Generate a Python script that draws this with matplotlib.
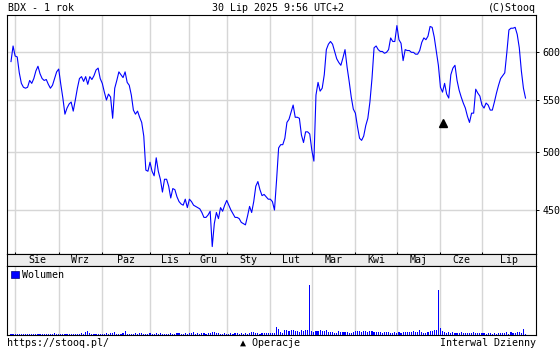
import matplotlib
matplotlib.use("Agg")
import matplotlib.pyplot as plt
from matplotlib.ticker import NullLocator, NullFormatter
import numpy as np
import pandas as pd

plt.rcParams['font.family'] = ['DejaVu Sans Mono', 'DejaVu Sans']

# ---------------- data ----------------
title_left = "BDX - 1 rok"
title_mid = "30 Lip 2025 9:56 UTC+2"
title_right = "(C)Stooq"
footer_left = "https://stooq.pl/"
footer_mid = "\u25B2 Operacje"
footer_right = "Interwal Dzienny"
legend_label = "Wolumen"

month_labels = ["Sie", "Wrz", "Paz", "Lis", "Gru", "Sty", "Lut", "Mar", "Kwi", "Maj", "Cze", "Lip"]
price_ticks = [450, 500, 550, 600]

start_date = "2024-07-30"
end_date = "2025-07-30"
holidays = ["2024-08-15", "2024-11-01", "2024-11-11", "2024-12-24", "2024-12-25",
            "2024-12-26", "2024-12-31", "2025-01-01", "2025-01-06", "2025-04-18",
            "2025-04-21", "2025-05-01", "2025-06-19"]

close = [
    590, 607, 596, 595, 578, 567, 563, 562, 563, 570, 567, 572, 580, 585, 577, 572,
    570, 571, 566, 562, 565, 572, 579, 582, 566, 552, 536, 542, 546, 548, 539, 550,
    562, 572, 574, 569, 574, 566, 574, 571, 575, 581, 583, 572, 567, 558, 550, 556,
    553, 532, 562, 570, 579, 576, 573, 579, 568, 565, 555, 540, 536, 539, 533,
    528, 515, 484, 483, 491, 483, 479, 495, 483, 476, 465, 476, 476, 470, 460, 468,
    467, 461, 457, 455, 454, 459, 452, 459, 457, 454, 453, 452, 451, 448, 444, 444,
    446, 449, 421, 439, 448, 443, 452, 449, 454, 458, 454, 450, 447, 444, 444, 443,
    440, 439, 438, 445, 453, 448, 457, 470, 474, 467, 462, 463, 461, 459, 459, 457,
    450,
    475, 504, 507, 507, 513, 528, 531, 538, 545, 533, 533, 532, 516, 509, 519, 519,
    517, 502, 492, 555, 568, 559, 562, 576, 603, 609, 612, 609, 601, 593, 589, 586,
    594, 603, 584, 569, 553, 541, 537, 524, 513, 511, 515, 525, 532, 548, 572, 605,
    607, 603, 601, 601, 599, 600, 603, 616, 612, 612, 630,
    614, 610, 591, 603, 602, 602, 600, 600, 598, 598, 602, 611, 616, 614, 618, 629,
    628, 617, 601, 586, 563, 558, 567, 556, 552, 576, 583, 586, 570, 560, 553, 547,
    542, 534, 528, 537, 537, 561, 557, 554, 545, 542, 547, 545, 540, 540, 548, 557,
    565, 572, 575, 578, 600, 625, 627, 627, 628, 620, 605, 580, 562, 552,
]

# volume in thousands of shares, per trading day
vol_jul_aug = [4, 4, 4, 4, 4, 4, 4, 4, 4, 4, 4, 4, 4, 4, 4, 4, 4, 4, 4, 4, 4, 8, 4]
vol_sep = [4, 4, 4, 4, 4, 4, 4, 4, 4, 4, 4, 8, 4, 12, 16, 8, 4, 4, 4, 4, 4]
vol_oct = [4, 4, 8, 4, 8, 8, 12, 4, 4, 4, 8, 16, 4, 4, 4, 4, 8, 4, 8, 8, 4, 4, 4]
vol_nov = [8, 4, 4, 8, 4, 8, 4, 4, 4, 4, 8, 4, 4, 8, 8, 4, 4, 8, 4]
vol_dec = [8, 8, 12, 4, 8, 4, 8, 8, 4, 8, 8, 12, 12, 8, 8, 4, 4, 8]
vol_jan = [4, 4, 8, 4, 8, 8, 4, 8, 4, 8, 4, 8, 12, 12, 8, 8, 4, 8, 8, 8, 8]
vol_feb = [8, 8, 8, 32, 24, 12, 8, 20, 20, 16, 20, 20, 16, 16, 12, 20, 16, 20, 20, 200]
vol_mar = [16, 12, 16, 16, 20, 16, 16, 20, 12, 12, 12, 8, 8, 16, 12, 12, 12, 12, 8, 8, 12]
vol_apr = [16, 16, 16, 12, 16, 16, 12, 16, 16, 12, 12, 12, 12, 8, 12, 12, 12, 8, 8, 12]
vol_may = [8, 12, 8, 12, 12, 12, 12, 12, 16, 12, 12, 20, 12, 8, 8, 12, 16, 16, 20, 20, 180]
vol_jun = [28, 16, 12, 8, 12, 8, 12, 8, 8, 8, 12, 8, 8, 8, 8, 8, 12, 8, 8, 8]
vol_jul = [8, 8, 4, 8, 8, 4, 8, 4, 8, 8, 8, 8, 12, 4, 12, 8, 8, 12, 12, 8, 24, 4]

ops_dates = ["2025-06-03"]
ops_level = [527]

# ---------------- derived ----------------
volume = (vol_jul_aug + vol_sep + vol_oct + vol_nov + vol_dec + vol_jan + vol_feb
          + vol_mar + vol_apr + vol_may + vol_jun + vol_jul)
dates = pd.bdate_range(start_date, end_date)
dates = dates[~dates.isin(pd.to_datetime(holidays))]
n = min(len(dates), len(close), len(volume))
dates = dates[:n]
x = np.arange(n)
close_arr = np.array(close[:n], dtype=float)
vol_arr = np.array(volume[:n], dtype=float)

months = dates.month
month_pos = [i for i in range(1, n) if months[i] != months[i - 1]]
ops_x = [int(np.searchsorted(dates, pd.Timestamp(d))) for d in ops_dates]

# ---------------- layout ----------------
W, H = 560, 350
fig = plt.figure(figsize=(W / 100, H / 100), dpi=100)
fs = 7.2
grid_c = '#d6d6d6'
blue = '#0000ff'

L, R = 7.3, 536.3
main_top, main_bot = 15.0, 254.3
band_bot = 266.3
vol_bot = 335.0
xlim = (-1.78, 253.2)

def fx(px):
    return px / W

def fy(py):
    return 1 - py / H

ax = fig.add_axes([fx(L), fy(main_bot), fx(R - L), (main_bot - main_top) / H])
axb = fig.add_axes([fx(L), fy(band_bot), fx(R - L), (band_bot - main_bot) / H])
axv = fig.add_axes([fx(L), fy(vol_bot), fx(R - L), (vol_bot - band_bot) / H])

# main price panel
ax.plot(x, close_arr, color=blue, lw=0.8, zorder=3)
ax.plot(ops_x, ops_level, linestyle='none', marker='^', color='black',
        markersize=5.5, zorder=4)
ax.set_yscale('log')
ax.set_ylim(415.1, 642.3)
ax.set_xlim(*xlim)
ax.set_yticks(price_ticks)
ax.yaxis.set_minor_locator(NullLocator())
ax.yaxis.set_minor_formatter(NullFormatter())
ax.set_yticklabels([str(t) for t in price_ticks])
ax.yaxis.tick_right()
ax.tick_params(axis='y', which='major', direction='out', length=2.5, width=0.7,
               labelsize=fs, pad=2, colors='black')
ax.set_xticks(month_pos)
ax.set_xticklabels([])
ax.tick_params(axis='x', which='major', direction='in', length=1.6, width=0.7,
               bottom=True, top=False)
ax.grid(True, color=grid_c, lw=1.0, zorder=0)
ax.set_axisbelow(True)
for s in ax.spines.values():
    s.set_linewidth(0.8)
    s.set_color('black')

# month label band
axb.set_facecolor('#ececec')
axb.set_xlim(*xlim)
axb.set_ylim(0, 1)
axb.set_yticks([])
axb.set_xticks(month_pos)
axb.set_xticklabels([])
axb.tick_params(axis='x', direction='out', length=2.2, width=0.7, bottom=True, top=False)
edges = month_pos + [xlim[1]]
for lab, a, b in zip(month_labels, edges[:-1], edges[1:]):
    axb.text((a + b) / 2, 0.24, lab, ha='center', va='baseline', fontsize=fs)
for s in axb.spines.values():
    s.set_linewidth(0.8)
    s.set_color('black')

# volume panel
bars = axv.bar(x, vol_arr, width=0.55, color=blue, linewidth=0, zorder=3,
               label=legend_label)
axv.set_xlim(*xlim)
axv.set_ylim(0, 275)
axv.set_xticks(month_pos)
axv.set_xticklabels([])
axv.set_yticks([])
axv.tick_params(axis='x', length=0)
axv.grid(True, axis='x', color=grid_c, lw=1.0, zorder=0)
axv.set_axisbelow(True)
for s in axv.spines.values():
    s.set_linewidth(0.8)
    s.set_color('black')
leg = axv.legend(loc='upper left', frameon=False, fontsize=fs, handlelength=0.75,
                 handleheight=0.75, handletextpad=0.3, borderaxespad=0.2,
                 borderpad=0.2)
for h in leg.legend_handles:
    h.set_edgecolor('#000080')
    h.set_linewidth(0.5)

# header and footer
fig.text(fx(8), fy(10.7), title_left, ha='left', va='baseline', fontsize=fs)
fig.text(fx(277.5), fy(10.7), title_mid, ha='center', va='baseline', fontsize=fs)
fig.text(fx(536.3), fy(10.7), title_right, ha='right', va='baseline', fontsize=fs)
fig.text(fx(7.3), fy(346), footer_left, ha='left', va='baseline', fontsize=fs)
fig.text(fx(240), fy(346), footer_mid, ha='left', va='baseline', fontsize=fs)
fig.text(fx(536.3), fy(346), footer_right, ha='right', va='baseline', fontsize=fs)

fig.savefig('out.png', dpi=100, facecolor='white')
